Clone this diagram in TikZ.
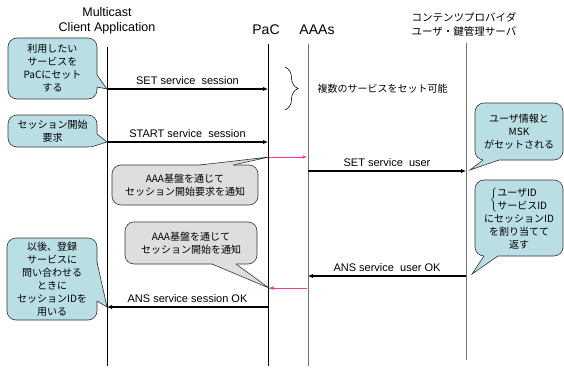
\documentclass[tikz,border=0pt]{standalone}
\usepackage{fontspec}
\setmainfont{Liberation Sans}
\newfontfamily\jp{Noto Sans CJK JP}
\usetikzlibrary{arrows.meta,calc,decorations.pathreplacing}
\definecolor{noteblue}{RGB}{185,222,227}
\definecolor{notegray}{RGB}{222,222,222}
\definecolor{notepink}{RGB}{255,51,153}
\def\pointer[#1](#2)(#3)(#4)(#5){\fill[#1] (#2) -- (#3) -- (#4) -- ($(#4)+(#5)$) -- ($(#2)+(#5)$) -- cycle;
  \draw[line width=0.6pt, color=black!80] (#2) -- (#3) -- (#4);}
\tikzset{
  lifeline/.style={line width=0.8pt},
  msg/.style={line width=1.3pt, -{Latex[length=5pt,width=4.5pt]}},
  pinkmsg/.style={line width=1pt, color=notepink, -{Latex[length=4.5pt,width=4pt]}},
  lbl/.style={above=3pt, inner sep=1pt, font=\fontsize{11}{13}\selectfont},
  bluenote/.style={draw=black!80, line width=0.6pt, fill=noteblue, rounded corners=9pt, align=center, inner sep=0pt, font=\jp\fontsize{10}{13}\selectfont},
  graynote/.style={bluenote, fill=notegray},
}

\begin{document}
\begin{tikzpicture}[x=1pt, y=-1pt]
  %%%%% START %%%%%
  \useasboundingbox (0,0) rectangle (564,369);

  \node[align=center, font=\fontsize{12.5}{15}\selectfont] (client) at (107,21) {Multicast\\Client Application};
  \node[font=\fontsize{14}{16}\selectfont] (pac) at (266,30) {PaC};
  \node[font=\fontsize{14}{16}\selectfont] (aaa) at (317,30) {AAAs};
  \node[align=center, font=\jp\fontsize{10.5}{14}\selectfont] (cp) at (464,24) {コンテンツプロバイダ\\ユーザ・鍵管理サーバ};

  \coordinate (cl top) at (107,47);  \coordinate (cl bot) at (107,366);
  \coordinate (pac top) at (268,44); \coordinate (pac bot) at (268,366);
  \coordinate (aaa top) at (308,44); \coordinate (aaa bot) at (308,366);
  \coordinate (cp top) at (466,43);  \coordinate (cp bot) at (466,360);

  \draw[lifeline] (cl top) -- (cl bot);
  \draw[lifeline] (pac top) -- (pac bot);
  \draw[lifeline, color=black!55] (aaa top) -- (aaa bot);
  \draw[lifeline, color=black!55] (cp top) -- (cp bot);

  % messages
  \coordinate (set a) at (107,89);     \coordinate (set b) at (268,89);
  \coordinate (start a) at (107,142);  \coordinate (start b) at (268,142);
  \coordinate (fwd a) at (269,157);    \coordinate (fwd b) at (307,157);
  \coordinate (user a) at (308,171);   \coordinate (user b) at (466,171);
  \coordinate (userok a) at (466,276); \coordinate (userok b) at (308,276);
  \coordinate (back a) at (307,288);   \coordinate (back b) at (269,288);
  \coordinate (sessok a) at (268,307); \coordinate (sessok b) at (107,307);

  \draw[msg] (set a) -- node[lbl] (setlbl) {SET service\ \ session} (set b);
  \draw[msg] (start a) -- node[lbl] (startlbl) {START service\ \ session} (start b);
  \draw[pinkmsg] (fwd a) -- (fwd b);
  \draw[msg] (user a) -- node[lbl] (userlbl) {SET service\ \ user} (user b);
  \draw[msg] (userok a) -- node[lbl] (useroklbl) {ANS service\ \ user OK} (userok b);
  \draw[pinkmsg] (back a) -- (back b);
  \draw[msg] (sessok a) -- node[lbl] (sessoklbl) {ANS service session OK} (sessok b);

  \coordinate (brtop) at (285,67); \coordinate (brbot) at (285,110);
  \draw[line width=0.6pt, decorate, decoration={brace, amplitude=13pt}] (brtop) -- (brbot);
  \node[anchor=west, font=\jp\fontsize{10}{12}\selectfont] (multi) at (314,89) {複数のサービスをセット可能};

  % callouts
  \node[bluenote, minimum width=89pt, minimum height=61pt] (setnote) at (52.5,68.5) {利用したい\\サービスを\\PaCにセット\\する};
  \pointer[noteblue](97,75)(set a)(97,87)(-3,0)

  \node[bluenote, minimum width=89pt, minimum height=32pt] (startnote) at (52.5,131) {セッション開始\\要求};
  \pointer[noteblue](97,134)(start a)(91,147)(-4,-3)

  \node[graynote, minimum width=146pt, minimum height=40pt] (reqnote) at (185,185) {AAA基盤を通じて\\セッション開始要求を通知};
  \pointer[notegray](200,165)(fwd a)(233,165)(0,3)

  \node[graynote, minimum width=132pt, minimum height=42pt] (notifnote) at (191,243) {AAA基盤を通じて\\セッション開始を通知};
  \pointer[notegray](212,264)(back b)(236,264)(0,-3)

  \coordinate (msktip) at (470,170);
  \node[bluenote, minimum width=88pt, minimum height=57pt] (msknote) at (519,131.5) {ユーザ情報と\\MSK\\がセットされる};
  \pointer[noteblue](483,160)(msktip)(499,160)(0,-3)

  \coordinate (idtip) at (472,274);
  \node[bluenote, minimum width=88pt, minimum height=76pt] (idnote) at (519,218) {$\left\{\begin{tabular}{@{}l@{}}ユーザID\\サービスID\end{tabular}\right.$\\にセッションID\\を割り当てて\\返す};
  \pointer[noteblue](484,256)(idtip)(498,256)(0,-3)

  \node[bluenote, minimum width=90pt, minimum height=82pt] (usenote) at (52,279) {以後、登録\\サービスに\\問い合わせる\\ときに\\セッションIDを\\用いる};
  \pointer[noteblue](97,262)(sessok b)(97,301)(-3,0)

  %%%%% END %%%%%
\end{tikzpicture}
\end{document}
